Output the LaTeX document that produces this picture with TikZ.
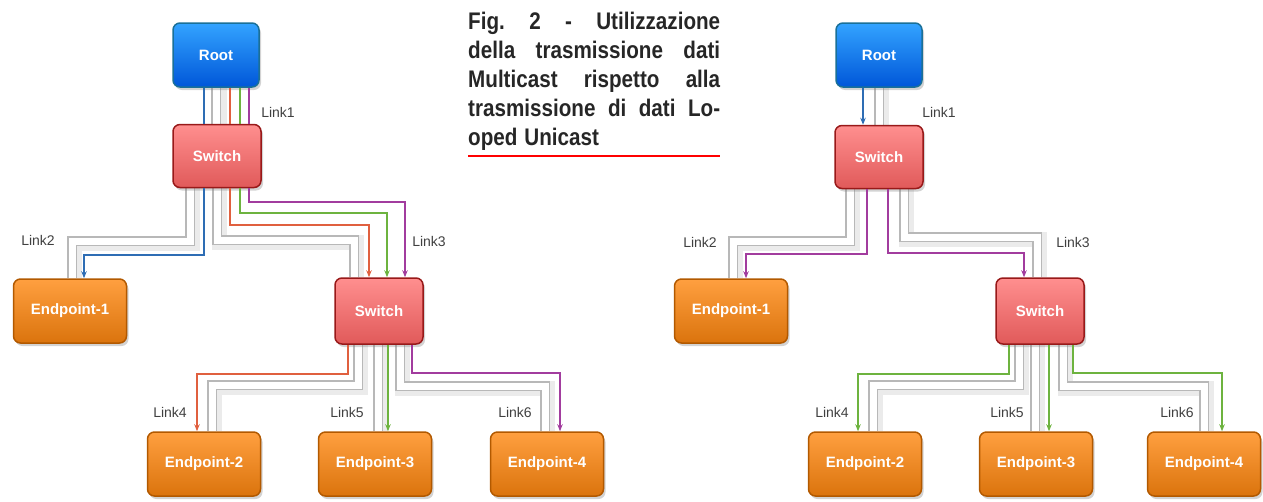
\documentclass[tikz,border=0pt]{standalone}
\usepackage{fontspec}
\usepackage{graphicx}
\setmainfont{Liberation Sans}
\usetikzlibrary{arrows.meta,backgrounds,shadows}

\definecolor{cblue}{HTML}{2E6DB4}
\definecolor{cred}{HTML}{E0603F}
\definecolor{cgreen}{HTML}{6DB33F}
\definecolor{cpurple}{HTML}{A23C9E}
\newcommand{\capline}[1]{\scalebox{0.86}[1]{\hbox to 293pt{#1}}}

\begin{document}
\begin{tikzpicture}[x=1pt,y=1pt]
\tikzset{
  box/.style={rounded corners=7pt,line width=1.5pt,inner sep=0pt,text=white,
    font=\bfseries\fontsize{15}{17}\selectfont,
    drop shadow={shadow xshift=2pt,shadow yshift=-3pt,opacity=0.35}},
  rootbox/.style={box,draw=black!30!cblue!80!cyan,top color=cyan!55!blue!80,bottom color=cyan!40!blue!85!black,
    minimum width=86pt,minimum height=64pt},
  switchbox/.style={box,draw=red!55!black!90,top color=red!45!white!95!pink,bottom color=red!60!white!88!black,
    minimum width=88pt,minimum height=63pt},
  endbox/.style={box,draw=orange!70!black,top color=orange!75!white,bottom color=orange!85!black!95,
    minimum width=113pt,minimum height=64pt},
  pipe/.style={draw=black!28,line width=1.3pt,double=white,double distance=7pt},
  pipeshade/.style={draw=black!8,line width=15pt},
  flow/.style={line width=1.5pt},
  flowarrow/.style={flow,-{Stealth[length=7pt,width=5.5pt]}},
  linklabel/.style={text=black!75,font=\fontsize{14}{16}\selectfont,inner sep=0pt},
  caption/.style={anchor=north west,text width=252pt,align=left,inner sep=0pt,text=black!85,
    font=\bfseries\fontsize{24}{29}\selectfont}
}
\useasboundingbox (0,0) rectangle (1263,-501);

% left: unicast
\node[rootbox] (root) at (216,-55) {Root};
\node[switchbox] (sw1) at (217,-156) {Switch};
\node[endbox] (ep1) at (70,-311) {Endpoint-1};
\node[switchbox,minimum height=66pt] (sw2) at (379,-311) {Switch};
\node[endbox] (ep2) at (204,-464) {Endpoint-2};
\node[endbox] (ep3) at (375,-464) {Endpoint-3};
\node[endbox] (ep4) at (547,-464) {Endpoint-4};

% right: multicast
\node[rootbox] (rroot) at (879,-55) {Root};
\node[switchbox] (rsw1) at (879,-157) {Switch};
\node[endbox] (rep1) at (731,-311) {Endpoint-1};
\node[switchbox,minimum height=66pt] (rsw2) at (1040,-311) {Switch};
\node[endbox] (rep2) at (865,-464) {Endpoint-2};
\node[endbox] (rep3) at (1036,-464) {Endpoint-3};
\node[endbox] (rep4) at (1204,-464) {Endpoint-4};

% caption
\node[caption] (cap) at (468,-11.5) {%
\capline{Fig.\hfill 2\hfill -\hfill Utilizzazione}\\
\capline{della\hfill trasmissione\hfill dati}\\
\capline{Multicast\hfill rispetto\hfill alla}\\
\capline{trasmissione\hfill di\hfill dati\hfill Lo-}\\
\scalebox{0.86}[1]{oped Unicast}};
\draw[red,line width=2pt] (468,-156) -- (720,-156);

% link labels
\node[linklabel] (l1) at (278,-112) {Link1};
\node[linklabel] (l2) at (38,-240) {Link2};
\node[linklabel] (l3) at (429,-241) {Link3};
\node[linklabel] (l4) at (170,-412) {Link4};
\node[linklabel] (l5) at (347,-412) {Link5};
\node[linklabel] (l6) at (515,-412) {Link6};
\node[linklabel] (rl1) at (939,-112) {Link1};
\node[linklabel] (rl2) at (700,-242) {Link2};
\node[linklabel] (rl3) at (1073,-242) {Link3};
\node[linklabel] (rl4) at (832,-412) {Link4};
\node[linklabel] (rl5) at (1007,-412) {Link5};
\node[linklabel] (rl6) at (1177,-412) {Link6};

\begin{scope}[on background layer]
% cables, left
\draw[pipeshade] (219,0 |- root.south) -- (219,0 |- sw1.north);
\draw[pipeshade] (192,0 |- sw1.south) |- (74,-243) -- (74,0 |- ep1.north);
\draw[pipeshade] (219,0 |- sw1.south) |- (356,-242) -- (356,0 |- sw2.north);
\draw[pipeshade] (360,0 |- sw2.south) |- (214,-387) -- (214,0 |- ep2.north);
\draw[pipeshade] (380,0 |- sw2.south) -- (380,0 |- ep3.north);
\draw[pipeshade] (402,0 |- sw2.south) |- (547,-388) -- (547,0 |- ep4.north);
\draw[pipe] (216,0 |- root.south) -- (216,0 |- sw1.north);
\draw[pipe] (190,0 |- sw1.south) |- (72,-241) -- (72,0 |- ep1.north);
\draw[pipe] (217,0 |- sw1.south) |- (354,-240) -- (354,0 |- sw2.north);
\draw[pipe] (358,0 |- sw2.south) |- (212,-385) -- (212,0 |- ep2.north);
\draw[pipe] (378,0 |- sw2.south) -- (378,0 |- ep3.north);
\draw[pipe] (400,0 |- sw2.south) |- (545,-386) -- (545,0 |- ep4.north);
% cables, right
\draw[pipeshade] (881,0 |- rroot.south) -- (881,0 |- rsw1.north);
\draw[pipeshade] (852,0 |- rsw1.south) |- (735,-243) -- (735,0 |- rep1.north);
\draw[pipeshade] (906,0 |- rsw1.south) |- (1039,-239) -- (1039,0 |- rsw2.north);
\draw[pipeshade] (1021,0 |- rsw2.south) |- (875,-387) -- (875,0 |- rep2.north);
\draw[pipeshade] (1037,0 |- rsw2.south) -- (1037,0 |- rep3.north);
\draw[pipeshade] (1065,0 |- rsw2.south) |- (1206,-388) -- (1206,0 |- rep4.north);
\draw[pipe] (879,0 |- rroot.south) -- (879,0 |- rsw1.north);
\draw[pipe] (850,0 |- rsw1.south) |- (733,-241) -- (733,0 |- rep1.north);
\draw[pipe] (904,0 |- rsw1.south) |- (1037,-237) -- (1037,0 |- rsw2.north);
\draw[pipe] (1019,0 |- rsw2.south) |- (873,-385) -- (873,0 |- rep2.north);
\draw[pipe] (1035,0 |- rsw2.south) -- (1035,0 |- rep3.north);
\draw[pipe] (1063,0 |- rsw2.south) |- (1204,-386) -- (1204,0 |- rep4.north);
\end{scope}

% unicast streams
\draw[flow,cblue] (204,0 |- root.south) -- (204,0 |- sw1.north);
\draw[flow,cred] (230,0 |- root.south) -- (230,0 |- sw1.north);
\draw[flow,cgreen] (240,0 |- root.south) -- (240,0 |- sw1.north);
\draw[flow,cpurple] (249,0 |- root.south) -- (249,0 |- sw1.north);
\draw[flowarrow,cblue] (204,0 |- sw1.south) |- (84,-255) -- (84,0 |- ep1.north);
\draw[flowarrow,cred] (230,0 |- sw1.south) |- (369,-225) -- (369,0 |- sw2.north);
\draw[flowarrow,cgreen] (240,0 |- sw1.south) |- (387,-213) -- (387,0 |- sw2.north);
\draw[flowarrow,cpurple] (249,0 |- sw1.south) |- (405,-202) -- (405,0 |- sw2.north);
\draw[flowarrow,cred] (348,0 |- sw2.south) |- (197,-374) -- (197,0 |- ep2.north);
\draw[flowarrow,cgreen] (388,0 |- sw2.south) -- (388,0 |- ep3.north);
\draw[flowarrow,cpurple] (412,0 |- sw2.south) |- (560,-373) -- (560,0 |- ep4.north);

% multicast streams
\draw[flowarrow,cblue] (863,0 |- rroot.south) -- (863,0 |- rsw1.north);
\draw[flowarrow,cpurple] (867,0 |- rsw1.south) |- (746,-254) -- (746,0 |- rep1.north);
\draw[flowarrow,cpurple] (888,0 |- rsw1.south) |- (1024,-253) -- (1024,0 |- rsw2.north);
\draw[flowarrow,cgreen] (1009,0 |- rsw2.south) |- (858,-374) -- (858,0 |- rep2.north);
\draw[flowarrow,cgreen] (1049,0 |- rsw2.south) -- (1049,0 |- rep3.north);
\draw[flowarrow,cgreen] (1073,0 |- rsw2.south) |- (1222,-373) -- (1222,0 |- rep4.north);
\end{tikzpicture}
\end{document}
